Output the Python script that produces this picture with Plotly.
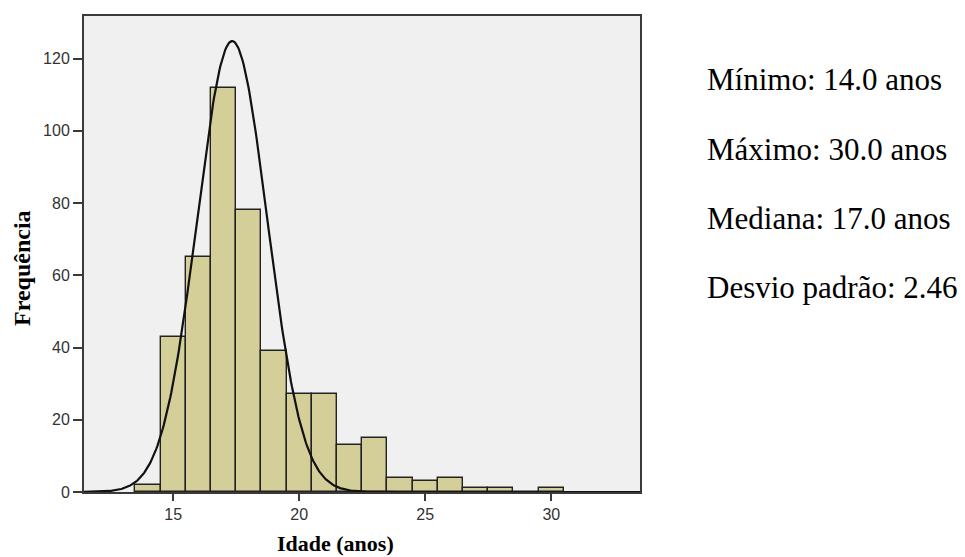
import numpy as np
import plotly.graph_objects as go

# ---- data ----
ages = [14, 15, 16, 17, 18, 19, 20, 21, 22, 23, 24, 25, 26, 27, 28, 29, 30]
counts = [2, 43, 65, 112, 78, 39, 27, 27, 13, 15, 4, 3, 4, 1, 1, 0, 1]
curve_mean = 17.34
curve_sd = 1.39
bin_width = 1.0
stat_lines = [
    "Mínimo: 14.0 anos",
    "Máximo: 30.0 anos",
    "Mediana: 17.0 anos",
    "Desvio padrão: 2.46",
]
x_ticks = [15, 20, 25, 30]
y_ticks = [0, 20, 40, 60, 80, 100, 120]

X_RANGE = [11.46, 33.52]
Y_RANGE = [0, 131.8]

n_total = sum(counts)
xc = np.linspace(X_RANGE[0], X_RANGE[1], 600)
yc = n_total * bin_width / (curve_sd * np.sqrt(2 * np.pi)) * np.exp(-0.5 * ((xc - curve_mean) / curve_sd) ** 2)

fig = go.Figure()
fig.add_trace(go.Bar(
    x=ages, y=counts, width=bin_width,
    marker=dict(color="#d4cf98", line=dict(color="#222222", width=1.4)),
    hoverinfo="x+y",
))
fig.add_trace(go.Scatter(
    x=xc, y=yc, mode="lines",
    line=dict(color="#111111", width=2.2),
    hoverinfo="skip",
))

axis_common = dict(
    showgrid=False, zeroline=False, showline=True, mirror=True,
    linecolor="#3a3a3a", linewidth=2,
    ticks="outside", tickcolor="#3a3a3a", tickwidth=1.5,
    tickfont=dict(family="Liberation Sans, Arial, sans-serif", size=16, color="#333333"),
)

fig.update_layout(
    width=965, height=557,
    margin=dict(l=84, r=325, t=16, b=65),
    paper_bgcolor="white", plot_bgcolor="#f0f0f0",
    showlegend=False, bargap=0,
    xaxis=dict(range=X_RANGE, tickvals=x_ticks, ticklen=7, **axis_common),
    yaxis=dict(range=Y_RANGE, tickvals=y_ticks, ticklen=9, **axis_common),
)

# axis titles
fig.add_annotation(
    text="<b>Idade (anos)</b>", xref="paper", yref="paper",
    x=(335 - 84) / 556, y=(492 - 543) / 476, xanchor="center", yanchor="middle",
    showarrow=False, font=dict(family="Liberation Serif, Times New Roman, serif", size=22, color="black"),
)
fig.add_annotation(
    text="<b>Frequência</b>", xref="paper", yref="paper", textangle=-90,
    x=(22 - 84) / 556, y=(492 - 268) / 476, xanchor="center", yanchor="middle",
    showarrow=False, font=dict(family="Liberation Serif, Times New Roman, serif", size=24, color="black"),
)

# statistics text
line_y_px = [80, 149, 218, 287]
for txt, ypx in zip(stat_lines, line_y_px):
    fig.add_annotation(
        text=txt, xref="paper", yref="paper",
        x=(705 - 84) / 556, y=(492 - ypx) / 476, xanchor="left", yanchor="middle",
        showarrow=False,
        font=dict(family="Liberation Serif, Times New Roman, serif", size=31, color="black"),
    )

fig.write_html("out.html")
